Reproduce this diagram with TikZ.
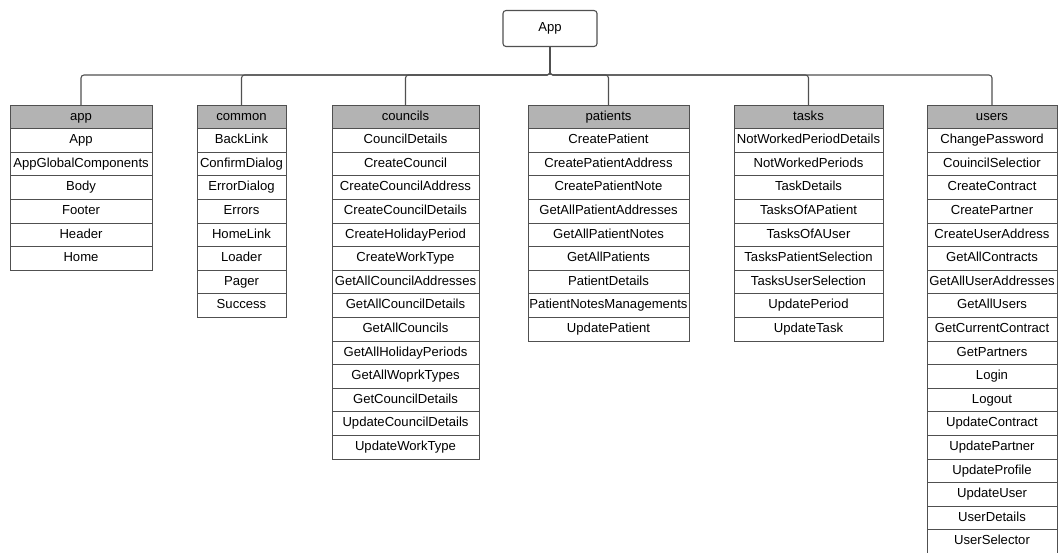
\documentclass[tikz,border=0pt]{standalone}
\usepackage{fontspec}
\setmainfont{Liberation Sans}
\usetikzlibrary{positioning}
\definecolor{linegray}{HTML}{505050}
\definecolor{headgray}{HTML}{B3B3B3}
\begin{document}
\begin{tikzpicture}[x=1pt,y=-1pt, every node/.style={font=\fontsize{13.1}{15}\selectfont}, root/.style={draw=linegray,line width=1.1pt,rounded corners=3pt,minimum width=94pt,minimum height=36pt}, head/.style={draw=linegray,fill=headgray,line width=1pt,inner sep=0pt,outer sep=0pt,text height=9.5pt,text depth=2.8pt,minimum height=23.6pt}, cell/.style={draw=linegray,fill=white,line width=1pt,inner sep=0pt,outer sep=0pt,text height=9.5pt,text depth=2.8pt,minimum height=23.6pt}, link/.style={draw=linegray,line width=1.1pt,rounded corners=3pt}]
\useasboundingbox (0,0) rectangle (1059,552);
\node[root] (root) at (550,28.5) {App};
\coordinate (bus) at (550,75);
\foreach \name/\cx/\w/\items in {app/81/142/{App,AppGlobalComponents,Body,Footer,Header,Home},
  common/241.5/89/{BackLink,ConfirmDialog,ErrorDialog,Errors,HomeLink,Loader,Pager,Success},
  councils/405.5/147/{CouncilDetails,CreateCouncil,CreateCouncilAddress,CreateCouncilDetails,CreateHolidayPeriod,CreateWorkType,GetAllCouncilAddresses,GetAllCouncilDetails,GetAllCouncils,GetAllHolidayPeriods,GetAllWoprkTypes,GetCouncilDetails,UpdateCouncilDetails,UpdateWorkType},
  patients/608.5/161/{CreatePatient,CreatePatientAddress,CreatePatientNote,GetAllPatientAddresses,GetAllPatientNotes,GetAllPatients,PatientDetails,PatientNotesManagements,UpdatePatient},
  tasks/808.5/149/{NotWorkedPeriodDetails,NotWorkedPeriods,TaskDetails,TasksOfAPatient,TasksOfAUser,TasksPatientSelection,TasksUserSelection,UpdatePeriod,UpdateTask},
  users/992/130/{ChangePassword,CouincilSelectior,CreateContract,CreatePartner,CreateUserAddress,GetAllContracts,GetAllUserAddresses,GetAllUsers,GetCurrentContract,GetPartners,Login,Logout,UpdateContract,UpdatePartner,UpdateProfile,UpdateUser,UserDetails,UserSelector}}{
  \node[head,minimum width=\w pt,alias=\name-0] (\name) at (\cx,116.8) {\name};
  \draw[link] (root.south) -- (root.south|-bus) -| (\name.north);
  \foreach \item [count=\i, remember=\i as \j (initially 0)] in \items
    \node[cell,minimum width=\w pt,below=0pt of \name-\j] (\name-\i) {\item};
}
\end{tikzpicture}
\end{document}
